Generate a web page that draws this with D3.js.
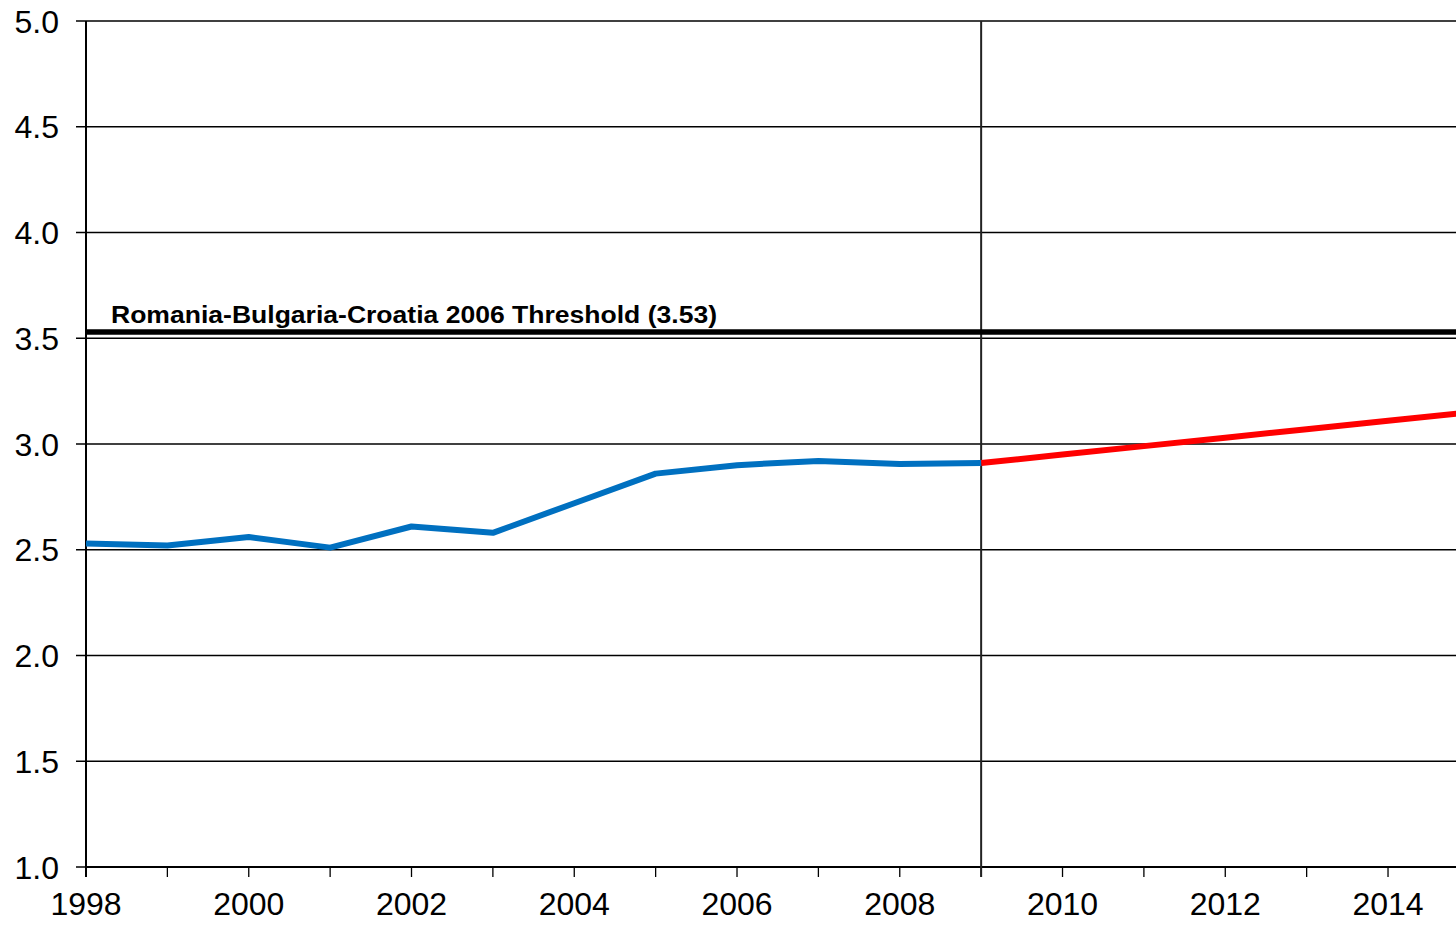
<!doctype html>
<html>
<head>
<script src="https://d3js.org/d3.v7.min.js"></script>
<style>
  body { margin: 0; background: #fff; }
  svg { display: block; font-family: "Liberation Sans", Arial, sans-serif; }
</style>
</head>
<body>
<svg width="1456" height="927"></svg>
<script>
// data
var actualYears = [1998, 1999, 2000, 2001, 2002, 2003, 2004, 2005, 2006, 2007, 2008, 2009];
var actualValues = [2.53, 2.52, 2.56, 2.51, 2.61, 2.58, 2.72, 2.86, 2.90, 2.92, 2.905, 2.91];
var forecastYears = [2009, 2010, 2011, 2012, 2013, 2014, 2015];
var forecastValues = [2.91, 2.95, 2.99, 3.03, 3.07, 3.11, 3.15];
var thresholdValue = 3.53;
var thresholdLabel = "Romania-Bulgaria-Croatia 2006 Threshold (3.53)";
var splitYear = 2009;
var yTicks = [1.0, 1.5, 2.0, 2.5, 3.0, 3.5, 4.0, 4.5, 5.0];
var xTickLabels = [1998, 2000, 2002, 2004, 2006, 2008, 2010, 2012, 2014];

var svg = d3.select("svg");

var x = d3.scaleLinear().domain([1998, 2015]).range([86, 1469.4]);
var y = d3.scaleLinear().domain([1, 5]).range([867, 21]);

// horizontal gridlines
svg.append("g")
  .selectAll("line")
  .data(yTicks)
  .enter()
  .append("line")
  .attr("x1", 76)
  .attr("x2", 1456)
  .attr("y1", d => y(d))
  .attr("y2", d => y(d))
  .attr("stroke", "#000")
  .attr("stroke-width", 1.3);

// y labels
svg.append("g")
  .selectAll("text")
  .data(yTicks)
  .enter()
  .append("text")
  .attr("x", 59)
  .attr("y", d => y(d) + 11.5)
  .attr("text-anchor", "end")
  .style("font-size", "32px")
  .text(d => d.toFixed(1));

// x axis ticks
var years = d3.range(1998, 2015);
svg.append("g")
  .selectAll("line")
  .data(years)
  .enter()
  .append("line")
  .attr("x1", d => x(d))
  .attr("x2", d => x(d))
  .attr("y1", 867)
  .attr("y2", 877)
  .attr("stroke", "#000")
  .attr("stroke-width", 1.3);

svg.append("g")
  .selectAll("text")
  .data(xTickLabels)
  .enter()
  .append("text")
  .attr("x", d => x(d))
  .attr("y", 915)
  .attr("text-anchor", "middle")
  .style("font-size", "32px")
  .text(d => d);

// left axis line and bottom line
svg.append("line")
  .attr("x1", x(1998)).attr("x2", x(1998))
  .attr("y1", y(5)).attr("y2", 877)
  .attr("stroke", "#000").attr("stroke-width", 2);
svg.append("line")
  .attr("x1", x(1998)).attr("x2", 1456)
  .attr("y1", y(1)).attr("y2", y(1))
  .attr("stroke", "#000").attr("stroke-width", 2);

// vertical split line
svg.append("line")
  .attr("x1", x(splitYear)).attr("x2", x(splitYear))
  .attr("y1", y(5)).attr("y2", 877)
  .attr("stroke", "#222").attr("stroke-width", 2);

// threshold
svg.append("line")
  .attr("x1", x(1998)).attr("x2", 1456)
  .attr("y1", y(thresholdValue)).attr("y2", y(thresholdValue))
  .attr("stroke", "#000").attr("stroke-width", 5.5);
svg.append("text")
  .attr("x", 111)
  .attr("y", y(thresholdValue) - 9)
  .attr("textLength", 606)
  .attr("lengthAdjust", "spacingAndGlyphs")
  .style("font-size", "23px")
  .style("font-weight", "bold")
  .text(thresholdLabel);

var line = d3.line().x(d => x(d[0])).y(d => y(d[1]));

svg.append("path")
  .datum(forecastYears.map((yr, i) => [yr, forecastValues[i]]))
  .attr("d", line)
  .attr("fill", "none")
  .attr("stroke", "#ff0000")
  .attr("stroke-width", 6);

svg.append("path")
  .datum(actualYears.map((yr, i) => [yr, actualValues[i]]))
  .attr("d", line)
  .attr("fill", "none")
  .attr("stroke", "#0070c0")
  .attr("stroke-width", 6)
  .attr("stroke-linejoin", "round");
</script>
</body>
</html>
